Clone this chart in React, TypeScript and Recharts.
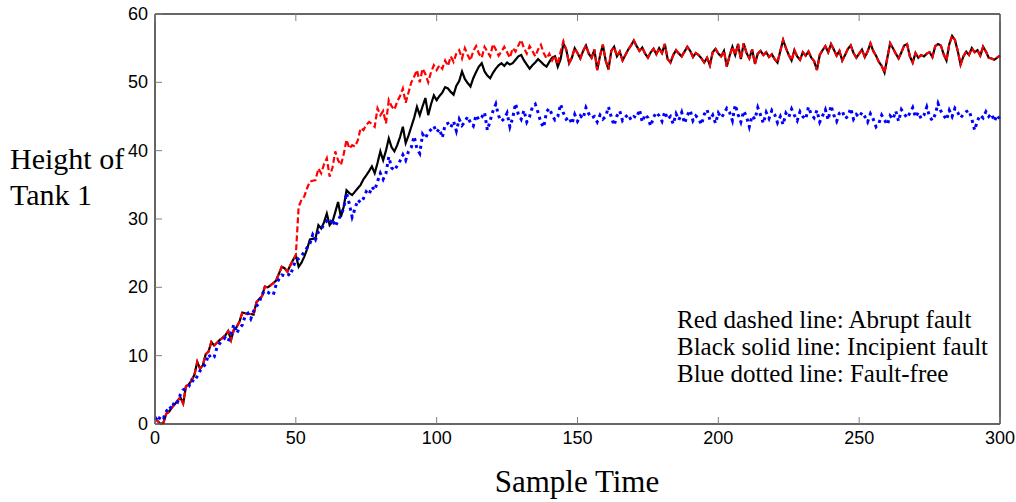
import { Line, LineChart, XAxis, YAxis } from "recharts";

// sample times 0..300, one value per sample
const xTicks = [0, 50, 100, 150, 200, 250, 300];
const yTicks = [0, 10, 20, 30, 40, 50, 60];

// red + black are identical before the fault (t = 0..50)
const sharedEarly = [
  0.8, 0.4, 0.0, 0.2, 1.5, 1.8, 2.4, 2.9, 3.4, 3.9,
  3.0, 5.5, 5.8, 6.4, 7.2, 9.1, 8.1, 8.6, 10.2, 10.6,
  12.0, 11.5, 11.9, 12.3, 12.6, 13.0, 13.6, 12.3, 13.8, 14.2,
  15.0, 16.3, 16.2, 16.1, 16.1, 16.0, 17.8, 18.3, 18.7, 20.1,
  20.0, 20.3, 20.6, 21.0, 22.0, 23.0, 22.8, 22.3, 23.2, 24.0,
  24.7,
];

// abrupt fault, t = 51..145
const abruptMid = [
  31.8, 32.8, 33.3, 34.5, 35.5, 35.6, 35.7, 37.4, 36.7, 38.0,
  38.9, 36.2, 37.5, 39.9, 38.6, 37.9, 39.5, 41.6, 40.3, 40.8,
  40.6, 41.5, 43.3, 43.0, 43.8, 44.2, 43.9, 43.5, 46.2, 45.2,
  45.8, 44.0, 47.4, 46.5, 46.0, 47.2, 48.0, 49.1, 47.0, 48.5,
  50.0, 50.8, 51.8, 50.0, 52.0, 51.2, 50.0, 51.5, 52.5, 51.8,
  52.5, 52.0, 53.2, 52.4, 53.8, 53.0, 54.2, 54.7, 53.5, 55.0,
  54.0, 53.2, 54.6, 55.3, 54.2, 53.6, 55.2, 54.5, 53.8, 55.6,
  54.8, 53.9, 54.5, 55.2, 54.4, 53.6, 55.0, 54.5, 55.4, 56.2,
  55.0, 54.2, 55.3, 54.6, 53.8, 54.8, 55.5, 54.3, 53.5, 54.2,
  53.2, 53.9, 52.6, 54.5, 56.0,
];

// incipient fault, t = 51..145
const incipientMid = [
  23.0, 23.6, 24.5, 25.6, 27.0, 27.1, 27.2, 29.1, 28.6, 29.5,
  30.8, 29.1, 29.6, 31.0, 32.5, 30.3, 31.8, 34.2, 33.8, 33.5,
  34.0, 34.5, 35.0, 35.8, 36.4, 37.0, 37.7, 36.7, 38.2, 39.9,
  38.6, 40.0, 41.8, 40.5, 39.9, 40.8, 42.0, 43.5, 41.1, 42.2,
  43.5, 44.8, 46.4, 45.2, 46.5, 47.7, 45.2, 46.8, 48.1, 47.4,
  48.0, 48.5, 49.3, 49.1, 48.6, 48.2, 49.5, 50.2, 51.6, 50.5,
  49.9, 49.4, 50.6, 51.5, 52.3, 52.8, 51.6, 51.0, 50.6, 51.4,
  52.0, 52.5, 52.8, 52.4, 52.9, 52.6, 52.8, 53.3, 53.8, 54.0,
  53.2, 52.6, 52.0, 52.5, 52.9, 53.4, 53.0, 52.6, 52.3, 53.0,
  53.6, 53.8, 52.3, 53.4, 55.7,
];

// both faulty runs coincide again, t = 146..300
const sharedLate = [
  54.8, 52.8, 53.6, 55.0, 54.3,
  53.5, 54.6, 55.4, 54.2, 53.6, 54.8, 51.8, 53.9, 55.5, 53.2,
  51.9, 54.6, 55.2, 53.8, 54.5, 53.2, 54.0, 54.8, 55.4, 56.1,
  55.3, 54.6, 55.1, 54.2, 53.6, 54.4, 54.9, 54.1, 55.0, 54.3,
  55.6, 53.4, 52.9, 54.0, 54.7, 54.2, 53.8, 54.5, 55.2, 54.6,
  53.7, 54.3, 54.0, 53.5, 52.9, 53.6, 52.5, 54.4, 54.9, 54.2,
  53.8, 54.6, 52.3, 53.9, 55.2, 54.0, 55.6, 53.4, 55.7, 54.3,
  53.5, 54.8, 52.7, 54.2, 54.6, 54.0, 54.4, 53.7, 54.1, 53.4,
  52.9, 54.6, 56.2, 55.0, 54.0, 53.2, 54.7, 53.8, 53.3, 54.4,
  53.9, 54.5, 53.6, 53.1, 51.8, 54.0, 54.7, 55.3, 54.4, 55.6,
  54.8, 53.9, 54.6, 53.2, 54.0, 54.9, 55.4, 54.3, 53.6, 54.2,
  54.8, 53.7, 54.5, 55.7, 54.6, 53.9, 53.0, 52.4, 51.4, 53.6,
  55.7, 55.0, 54.2, 53.5, 54.4, 55.4, 55.6, 53.8, 52.9, 54.3,
  53.6, 54.0, 53.8, 54.2, 54.4, 53.7, 55.3, 55.6, 55.4, 54.1,
  53.2, 55.6, 56.8, 56.2, 54.6, 52.6, 53.8, 54.5, 54.0, 55.0,
  54.4, 54.7, 53.9, 55.2, 54.5, 53.6, 53.5, 53.3, 53.6, 53.9,
];

// fault-free, t = 0..300
const faultFree = [
  1.0, 0.4, 1.2, 0.9, 1.8, 2.6, 2.2, 3.4, 3.2, 4.3,
  5.0, 5.2, 5.5, 6.4, 6.2, 7.0, 7.8, 8.3, 8.8, 10.2,
  9.6, 9.8, 11.2, 11.8, 12.3, 12.6, 12.1, 13.2, 14.6, 13.3,
  14.0, 14.5, 15.8, 16.2, 15.4, 16.5, 17.2, 17.8, 19.0, 19.5,
  19.3, 19.0, 18.9, 20.4, 21.2, 21.8, 21.7, 22.0, 21.7, 22.9,
  24.0,
  24.2, 24.6, 25.2, 25.8, 26.4, 27.7, 27.0, 28.1, 28.5, 29.2,
  29.7, 29.3, 30.0, 28.9, 29.8, 30.6, 31.6, 33.8, 32.2, 30.3,
  31.5, 32.8, 32.4, 33.0, 34.0, 33.6, 34.7, 34.2, 35.5, 36.7,
  35.8, 36.7, 39.1, 37.5, 37.1, 37.8, 38.5, 39.4, 38.6, 39.9,
  40.5, 42.1, 40.3, 39.6, 42.4, 41.8, 42.7, 43.1, 43.6, 42.7,
  43.2, 41.9, 43.8, 44.0, 43.4, 44.3, 42.9, 44.6, 43.7, 44.2,
  45.0, 44.1, 43.6, 45.2, 44.5, 44.9, 45.6, 43.0, 44.4, 45.8,
  46.8, 45.1, 44.3, 44.7, 45.5, 43.5, 44.8, 46.9, 45.3, 44.6,
  45.9, 44.2, 45.0, 46.4, 46.8, 45.6, 44.1, 43.4, 45.7, 46.2,
  45.2, 44.5, 45.0, 46.8, 45.5, 44.6, 44.9, 43.9, 45.3, 44.3,
  45.1, 44.7, 46.3, 45.4, 44.8, 45.0, 44.2, 45.2, 44.6, 45.0,
  46.4, 44.9, 43.7, 45.1, 45.8, 44.4, 44.9, 45.3, 44.5, 45.0,
  44.8, 46.0, 44.2, 45.3, 44.8, 43.6, 44.9, 45.6, 45.1, 44.3,
  45.7, 44.6, 45.0, 43.9, 45.4, 44.5, 45.6, 44.0, 45.2, 45.9,
  44.4, 45.1, 44.7, 43.8, 45.3, 46.0, 44.5, 45.2, 44.0, 45.5,
  44.8, 45.4, 46.2, 45.6, 44.4, 46.7, 45.3, 44.2, 45.8, 45.0,
  43.5, 45.1, 44.6, 46.3, 45.2, 44.0, 45.6, 44.7, 45.9, 45.3,
  44.1, 45.0, 43.8, 45.5, 44.9, 46.1, 45.2, 44.4, 45.7, 45.0,
  44.6, 46.4, 45.3, 44.8, 45.9, 44.2, 45.1, 46.0, 44.5, 46.6,
  45.2, 44.3, 45.5, 45.8, 44.7, 45.0, 46.2, 44.6, 45.3, 44.9,
  45.6, 45.0, 44.2, 45.4, 44.6, 43.5, 44.0, 45.2, 44.5, 43.8,
  45.1, 44.6, 45.8, 44.3, 46.0, 45.4, 44.8, 45.5, 46.3, 44.9,
  45.6, 44.7, 45.2, 46.4, 45.0, 44.4, 45.3, 46.9, 45.8, 45.2,
  44.5, 45.9, 45.0, 46.2, 45.6, 44.8, 45.3, 45.7, 45.9, 44.6,
  43.0, 44.4, 45.2, 44.8, 45.7, 45.0, 45.4, 44.3, 45.2, 44.6,
];

const abrupt = [...sharedEarly, ...abruptMid, ...sharedLate];
const incipient = [...sharedEarly, ...incipientMid, ...sharedLate];

const data = faultFree.map((v, t) => ({
  t,
  faultFree: v,
  abrupt: abrupt[t],
  incipient: incipient[t],
}));

const tickFont = "'Liberation Sans', Arial, sans-serif";
const textFont = "'Liberation Serif', 'Times New Roman', serif";
const boxColor = "#333";
const tickColor = "#808080";
const tickLen = 7;

const BottomTick = ({ x, y, payload }: any) => (
  <g>
    <line x1={x} x2={x} y1={y} y2={y - tickLen} stroke={tickColor} />
    <text x={x} y={y + 20} textAnchor="middle" fontFamily={tickFont} fontSize={18} fill="#000">
      {payload.value}
    </text>
  </g>
);

const TopTick = ({ x, y }: any) => (
  <line x1={x} x2={x} y1={y} y2={y + tickLen} stroke={tickColor} />
);

const LeftTick = ({ x, y, payload }: any) => (
  <g>
    <line x1={x} x2={x + tickLen} y1={y} y2={y} stroke={tickColor} />
    <text x={x - 7} y={y + 6} textAnchor="end" fontFamily={tickFont} fontSize={18} fill="#000">
      {payload.value}
    </text>
  </g>
);

const RightTick = ({ x, y }: any) => (
  <line x1={x} x2={x - tickLen} y1={y} y2={y} stroke={tickColor} />
);

export default function App() {
  return (
    <div style={{ position: "absolute", left: 0, top: 0, width: 1016, height: 502, background: "#fff" }}>
      <LineChart
        width={1016}
        height={502}
        data={data}
        margin={{ top: 13, right: 15, bottom: 48, left: 95 }}
      >
        <XAxis
          dataKey="t"
          type="number"
          domain={[0, 300]}
          ticks={xTicks}
          height={30}
          tickSize={0}
          tickMargin={0}
          tickLine={false}
          axisLine={{ stroke: boxColor, strokeWidth: 1.5 }}
          tick={<BottomTick />}
          interval={0}
        />
        <XAxis
          xAxisId="top"
          orientation="top"
          dataKey="t"
          type="number"
          domain={[0, 300]}
          ticks={xTicks}
          height={1}
          tickSize={0}
          tickMargin={0}
          tickLine={false}
          axisLine={{ stroke: boxColor, strokeWidth: 1.5 }}
          tick={<TopTick />}
          interval={0}
        />
        <YAxis
          type="number"
          domain={[0, 60]}
          ticks={yTicks}
          width={60}
          tickSize={0}
          tickMargin={0}
          tickLine={false}
          axisLine={{ stroke: boxColor, strokeWidth: 1.5 }}
          tick={<LeftTick />}
          interval={0}
        />
        <YAxis
          yAxisId="right"
          orientation="right"
          type="number"
          domain={[0, 60]}
          ticks={yTicks}
          width={1}
          tickSize={0}
          tickMargin={0}
          tickLine={false}
          axisLine={{ stroke: boxColor, strokeWidth: 1.5 }}
          tick={<RightTick />}
          interval={0}
        />
        <Line
          dataKey="incipient"
          stroke="#000"
          strokeWidth={2.2}
          dot={false}
          isAnimationActive={false}
        />
        <Line
          dataKey="abrupt"
          stroke="#ff0000"
          strokeWidth={2.2}
          strokeDasharray="6 3"
          dot={false}
          isAnimationActive={false}
        />
        <Line
          dataKey="faultFree"
          stroke="#0000ff"
          strokeWidth={3}
          strokeDasharray="3 4"
          dot={false}
          isAnimationActive={false}
        />
      </LineChart>
      <svg
        width={1016}
        height={502}
        style={{ position: "absolute", left: 0, top: 0, pointerEvents: "none" }}
      >
        <g fontFamily={textFont} fill="#000">
          <text x={10} y={169} fontSize={30}>Height of</text>
          <text x={10} y={205} fontSize={30}>Tank 1</text>
          <text x={577} y={492} fontSize={31} textAnchor="middle">Sample Time</text>
          <text x={677} y={328} fontSize={25}>Red dashed line: Abrupt fault</text>
          <text x={677} y={355} fontSize={25}>Black solid line: Incipient fault</text>
          <text x={677} y={382} fontSize={25}>Blue dotted line: Fault-free</text>
        </g>
      </svg>
    </div>
  );
}
